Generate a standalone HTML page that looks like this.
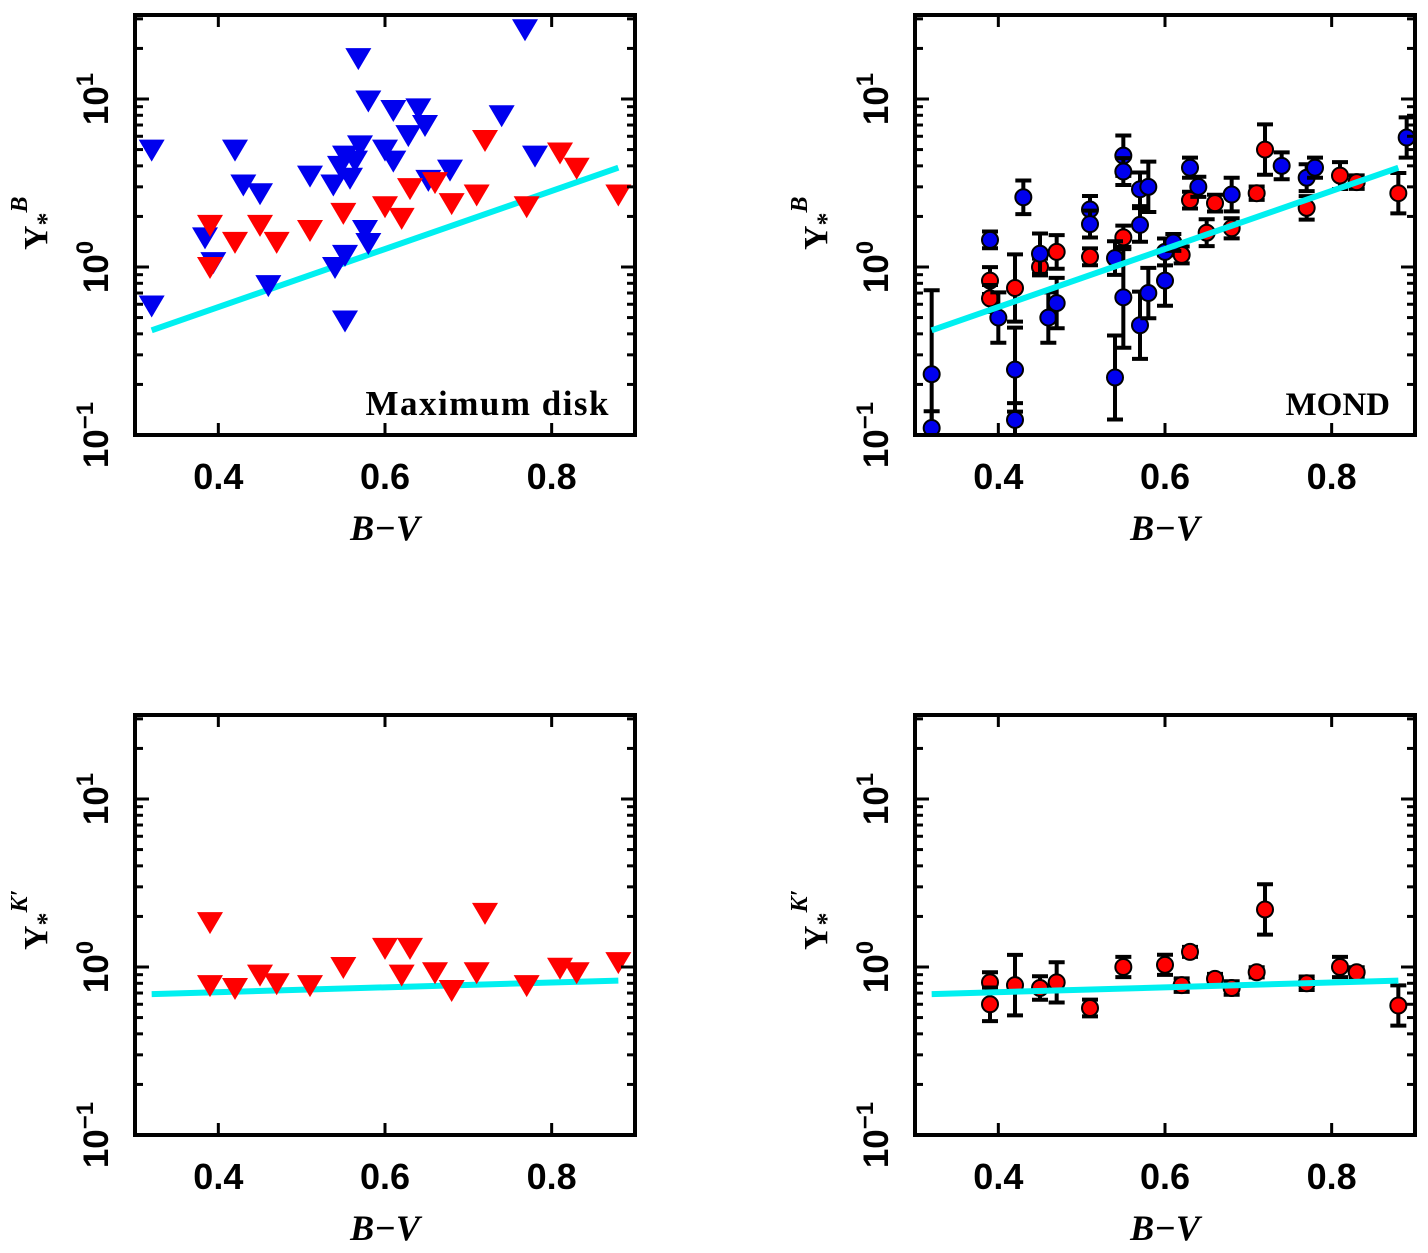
<!DOCTYPE html>
<html><head><meta charset="utf-8"><style>
body{margin:0;background:#fff;}
svg{display:block;font-family:"Liberation Serif",serif;font-weight:bold;}
</style></head><body>
<svg id="c" width="1428" height="1253" viewBox="0 0 1428 1253" xmlns="http://www.w3.org/2000/svg"></svg>
<script>
// Panel 1: maximum disk, B band
const p1BlueX=[0.32,0.32,0.42,0.43,0.45,0.384,0.394,0.46,0.51,0.538,0.546,0.552,0.558,0.568,0.57,0.564,0.58,0.61,0.60,0.61,0.628,0.64,0.648,0.652,0.678,0.74,0.768,0.78,0.552,0.54,0.552,0.576,0.58];
const p1BlueY=[5.0,0.59,5.0,3.1,2.75,1.5,1.07,0.78,3.5,3.1,4.0,4.6,3.4,17.5,5.3,4.3,9.8,8.6,5.0,4.3,6.1,8.8,7.0,3.3,3.8,8.0,26,4.6,0.48,1.0,1.18,1.66,1.39];
const p1RedX=[0.39,0.39,0.42,0.45,0.47,0.51,0.55,0.60,0.62,0.63,0.66,0.68,0.71,0.72,0.77,0.81,0.83,0.88];
const p1RedY=[1.78,1.0,1.41,1.78,1.41,1.66,2.1,2.3,1.96,2.95,3.2,2.4,2.7,5.7,2.3,4.8,3.9,2.7];
// Panel 2: MOND, B band
const p2BlueX=[0.32,0.32,0.39,0.43,0.40,0.42,0.42,0.45,0.46,0.47,0.51,0.51,0.54,0.54,0.55,0.55,0.55,0.57,0.57,0.57,0.58,0.58,0.60,0.63,0.64,0.68,0.74,0.77,0.78,0.89,0.60,0.61];
const p2BlueY=[0.23,0.11,1.45,2.6,0.50,0.245,0.123,1.2,0.5,0.61,2.2,1.8,1.13,0.22,4.6,3.7,0.66,1.78,0.45,2.9,0.7,3.0,0.83,3.9,3.0,2.7,4.0,3.4,3.9,5.9,1.23,1.4];
const p2BlueErr=[0.5,0.1,0.05,0.1,0.15,0.25,0.1,0.12,0.15,0.15,0.08,0.08,0.1,0.25,0.12,0.08,0.3,0.1,0.2,0.1,0.15,0.15,0.15,0.06,0.06,0.1,0.08,0.08,0.06,0.12,0.08,0.05];
const p2RedX=[0.39,0.39,0.42,0.45,0.47,0.51,0.55,0.62,0.63,0.66,0.71,0.72,0.77,0.81,0.83,0.88,0.65,0.68];
const p2RedY=[0.83,0.65,0.75,1.0,1.23,1.15,1.5,1.18,2.5,2.4,2.75,5.0,2.25,3.5,3.2,2.75,1.6,1.7];
const p2RedErr=[0.08,0.08,0.2,0.05,0.1,0.05,0.07,0.05,0.05,0.05,0.04,0.15,0.07,0.08,0.04,0.12,0.08,0.06];
// Panel 3/4: K' band
const p3RedX=[0.39,0.39,0.42,0.45,0.47,0.51,0.55,0.60,0.62,0.63,0.66,0.68,0.71,0.72,0.77,0.81,0.83,0.88];
const p3RedY=[1.85,0.78,0.75,0.9,0.8,0.78,1.0,1.3,0.9,1.3,0.93,0.73,0.93,2.1,0.78,0.99,0.93,1.07];
const p4RedX=[0.39,0.39,0.42,0.45,0.47,0.51,0.55,0.60,0.62,0.63,0.66,0.68,0.71,0.72,0.77,0.81,0.83,0.88];
const p4RedY=[0.81,0.6,0.78,0.75,0.81,0.57,1.0,1.03,0.78,1.23,0.85,0.75,0.93,2.2,0.8,1.0,0.93,0.59];
const p4RedErr=[0.06,0.1,0.18,0.07,0.12,0.05,0.06,0.06,0.04,0.03,0.03,0.04,0.03,0.15,0.04,0.06,0.03,0.12];
// Fit lines [x0,x1],[y0,y1]
const fitBX=[0.32,0.88], fitBY=[0.42,3.9];
const fitKX=[0.32,0.88], fitKY=[0.69,0.83];
const xTicks=[0.4,0.6,0.8];
const xTickLabels=["0.4","0.6","0.8"];
const yDecades=[-1,0,1];

const NS="http://www.w3.org/2000/svg";
const svg=document.getElementById('c');
function mk(tag,attrs,parent){const e=document.createElementNS(NS,tag);for(const k in attrs)e.setAttribute(k,attrs[k]);(parent||svg).appendChild(e);return e;}

function panel(ox,oy,name,ylabelSup){
  const g=mk('g',{});
  
  
  const L=ox,R=ox+500,T=oy,B=oy+420;
  const sx=v=>L+(v-0.3)/0.6*500;
  const sy=v=>B-(Math.log10(v)+1)/2.5*420;
  const fg=mk('g',{},g);
  const ax=mk('g',{stroke:'#000','stroke-width':3},g);
  
  
  xTicks.forEach((t,i)=>{
    const x=sx(t);
    mk('line',{x1:x,y1:B,x2:x,y2:B-12},ax);
    mk('line',{x1:x,y1:T,x2:x,y2:T+12},ax);
    const tl=mk('text',{x:x,y:B+54,'text-anchor':'middle','font-size':36,stroke:'none',fill:'#000','font-family':'Liberation Sans, sans-serif'},g);
    
    
    tl.textContent=xTickLabels[i];
  });
  for(let d=-1;d<=1;d++){
    for(let m=1;m<=9;m++){
      const v=m*Math.pow(10,d);
      if(v>Math.pow(10,1.5))break;
      const y=sy(v);const len=m===1?14:8;
      mk('line',{x1:L,y1:y,x2:L+len,y2:y},ax);
      mk('line',{x1:R,y1:y,x2:R-len,y2:y},ax);
    }
  }
  yDecades.forEach(d=>{
    const y=sy(Math.pow(10,d));
    const t=mk('text',{transform:`translate(${L-27},${y}) rotate(-90)`,'text-anchor':'middle','font-size':35,fill:'#000','font-family':'Liberation Sans, sans-serif'},g);
    
    
    t.innerHTML=`10<tspan dy="-15" font-size="24">${d<0?'\u2212'+(-d):d}</tspan>`;
  });
  mk('rect',{x:L,y:T,width:500,height:420,fill:'none',stroke:'#000','stroke-width':4},g);
  const xl=mk('text',{x:L+250,y:B+105,'text-anchor':'middle','font-size':36,'font-style':'italic',fill:'#000'},g);
  
  
  xl.textContent='B\u2212V';
  const yl=mk('text',{transform:`translate(${L-88},${oy+235}) rotate(-90)`,'font-size':34,fill:'#000'},g);
  
  
  yl.innerHTML=`\u03A5<tspan dy="8" font-size="26">*</tspan><tspan dy="-28" font-size="24" font-style="italic">${ylabelSup}</tspan>`;
  return {g:fg,sx,sy,L,R,T,B};
}
function clip(P,id){const cp=mk('clipPath',{id});mk('rect',{x:P.L,y:P.T,width:500,height:420},cp);P.g.setAttribute('clip-path',`url(#${id})`);}
function fit(P,xs,ys){const l=mk('line',{x1:P.sx(xs[0]),y1:P.sy(ys[0]),x2:P.sx(xs[1]),y2:P.sy(ys[1]),stroke:'#00f0f0','stroke-width':6},P.g);}
function tris(P,xs,ys,col,name){xs.forEach((x,i)=>{const cx=P.sx(x),cy=P.sy(ys[i]);const t=mk('polygon',{points:`${cx-13},${cy-10} ${cx+13},${cy-10} ${cx},${cy+12}`,fill:col},P.g);});}
function circs(P,xs,ys,es,col,name){xs.forEach((x,i)=>{const cx=P.sx(x),cy=P.sy(ys[i]);const e=es[i];const y1=P.sy(ys[i]*Math.pow(10,e)),y2=P.sy(ys[i]/Math.pow(10,e));
  const eb=mk('path',{d:`M${cx},${y1}V${y2}M${cx-8},${y1}H${cx+8}M${cx-8},${y2}H${cx+8}`,stroke:'#000','stroke-width':4,fill:'none'},P.g);
  const c=mk('circle',{cx,cy,r:8,fill:col,stroke:'#000','stroke-width':2},P.g);});}

const P1=panel(135,15,'panel-max-disk-b','B');clip(P1,'c1');
fit(P1,fitBX,fitBY);tris(P1,p1BlueX,p1BlueY,'#0000ee','blue-triangle');tris(P1,p1RedX,p1RedY,'#ff0000','red-triangle');
let t=mk('text',{x:610,y:415,'text-anchor':'end','font-size':35,'letter-spacing':'1.5',fill:'#000'});t.textContent='Maximum  disk';
const P2=panel(915,15,'panel-mond-b','B');clip(P2,'c2');
circs(P2,p2RedX,p2RedY,p2RedErr,'#ff0000','red-circle');circs(P2,p2BlueX,p2BlueY,p2BlueErr,'#0000ee','blue-circle');fit(P2,fitBX,fitBY);
t=mk('text',{x:1390,y:415,'text-anchor':'end','font-size':33,fill:'#000'});t.textContent='MOND';
const P3=panel(135,715,'panel-max-disk-k',"K\u2032");clip(P3,'c3');
fit(P3,fitKX,fitKY);tris(P3,p3RedX,p3RedY,'#ff0000','red-triangle');
const P4=panel(915,715,'panel-mond-k',"K\u2032");clip(P4,'c4');
circs(P4,p4RedX,p4RedY,p4RedErr,'#ff0000','red-circle');fit(P4,fitKX,fitKY);
</script>
</body></html>
